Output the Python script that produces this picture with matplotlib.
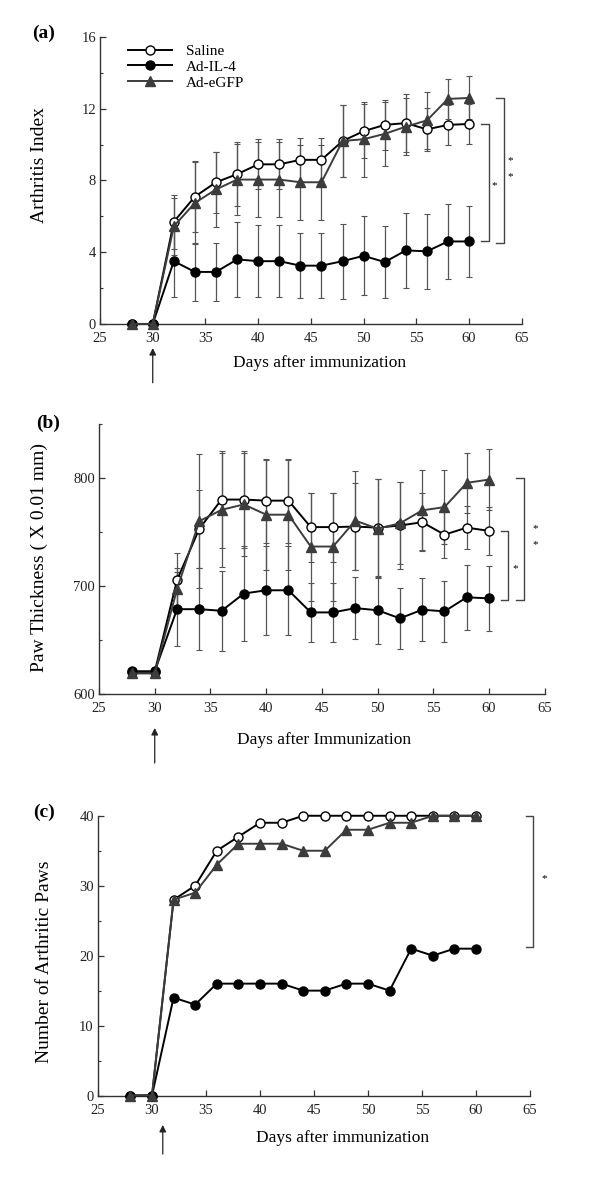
import numpy as np
import matplotlib.pyplot as plt
from matplotlib.ticker import MultipleLocator

plt.rcParams['font.family'] = ['Liberation Serif', 'DejaVu Serif']

days = [28, 30, 32, 34, 36, 38, 40, 42, 44, 46, 48, 50, 52, 54, 56, 58, 60]
groups = ['Saline', 'Ad-IL-4', 'Ad-eGFP']

# (a) arthritis index, mean and error
ai_saline = [0, 0, 5.7, 7.1, 7.9, 8.35, 8.9, 8.9, 9.15, 9.15, 10.2, 10.75, 11.1, 11.2, 10.85, 11.1, 11.15]
ai_il4 = [0, 0, 3.5, 2.9, 2.9, 3.6, 3.5, 3.5, 3.25, 3.25, 3.5, 3.8, 3.45, 4.1, 4.05, 4.6, 4.6]
ai_egfp = [0, 0, 5.45, 6.75, 7.5, 8.05, 8.05, 8.05, 7.9, 7.9, 10.2, 10.3, 10.6, 11.0, 11.35, 12.55, 12.6]
ai_saline_err = [0, 0, 1.5, 2.0, 1.7, 1.8, 1.4, 1.4, 1.2, 1.2, 2.0, 1.5, 1.4, 1.6, 1.2, 1.1, 1.1]
ai_il4_err = [0, 0, 2.0, 1.6, 1.6, 2.1, 2.0, 2.0, 1.8, 1.8, 2.1, 2.2, 2.0, 2.1, 2.1, 2.1, 2.0]
ai_egfp_err = [0, 0, 1.6, 2.3, 2.1, 2.0, 2.1, 2.1, 2.1, 2.1, 2.0, 2.1, 1.8, 1.6, 1.6, 1.1, 1.2]

# (b) paw thickness (x 0.01 mm)
pt_saline = [620.5, 620.5, 705.5, 753, 780, 780, 779, 779, 754.5, 754.5, 755, 754, 756, 759, 747.5, 754, 751]
pt_il4 = [621, 621, 678.5, 678.5, 677, 693, 696, 696, 675.5, 675.5, 679.5, 677.5, 670, 678, 676.5, 689.5, 688.5]
pt_egfp = [619, 619, 697, 760, 770.5, 775.5, 766, 766, 736.5, 736.5, 760.5, 753, 758, 770, 773, 795.5, 798.5]
pt_saline_err = [3, 3, 25, 36, 45, 45, 39, 39, 32, 32, 40, 45, 40, 27, 22, 20, 22]
pt_il4_err = [3, 3, 34, 38, 37, 44, 41, 41, 27, 27, 29, 31, 28, 29, 28, 30, 30]
pt_egfp_err = [3, 3, 20, 62, 53, 48, 51, 51, 50, 50, 46, 46, 38, 37, 34, 28, 28]

# (c) number of arthritic paws
np_saline = [0, 0, 28, 30, 35, 37, 39, 39, 40, 40, 40, 40, 40, 40, 40, 40, 40]
np_il4 = [0, 0, 14, 13, 16, 16, 16, 16, 15, 15, 16, 16, 15, 21, 20, 21, 21]
np_egfp = [0, 0, 28, 29, 33, 36, 36, 36, 35, 35, 38, 38, 39, 39, 40, 40, 40]

fig = plt.figure(figsize=(6, 11.78), dpi=100)
ax_a = fig.add_axes([0.1667, 0.7250, 0.703, 0.2436])
ax_b = fig.add_axes([0.165, 0.4109, 0.743, 0.2292])
ax_c = fig.add_axes([0.1633, 0.0700, 0.72, 0.2375])

styles = [
    dict(marker='o', mfc='white', mec='black', color='black', ms=6.5, lw=1.4),
    dict(marker='o', mfc='black', mec='black', color='black', ms=6.5, lw=1.4),
    dict(marker='^', mfc='#3c3c3c', mec='#3c3c3c', color='#3c3c3c', ms=6.5, lw=1.4),
]


def draw(ax, series, errs=None):
    if errs is not None:
        for s, e in zip(series, errs):
            ax.errorbar(days, s, yerr=e, fmt='none', ecolor='#555555',
                        elinewidth=0.9, capsize=2, capthick=0.8, zorder=2)
    handles = []
    for s, st, name in zip(series, styles, groups):
        h, = ax.plot(days, s, label=name, zorder=3, clip_on=False, **st)
        handles.append(h)
    return handles


def style_axes(ax, ylim, major, minor):
    ax.set_xlim(25, 65)
    ax.set_ylim(*ylim)
    ax.xaxis.set_major_locator(MultipleLocator(5))
    ax.yaxis.set_major_locator(MultipleLocator(major))
    ax.yaxis.set_minor_locator(MultipleLocator(minor))
    for sp in ['top', 'right']:
        ax.spines[sp].set_visible(False)
    for sp in ['left', 'bottom']:
        ax.spines[sp].set_color('#333333')
        ax.spines[sp].set_linewidth(1.0)
    ax.tick_params(which='major', direction='in', length=4, width=0.9,
                   labelsize=10.5, pad=3, colors='#333333', labelcolor='#222222')
    ax.tick_params(axis='x', which='major', pad=6)
    ax.tick_params(which='minor', direction='in', length=2.5, width=0.8,
                   colors='#333333')


def bracket(ax, x, top, bottom, w=0.75):
    ax.plot([x - w, x, x, x - w], [top, top, bottom, bottom],
            color='#444444', lw=1.0, clip_on=False)


def arrow(ax, x, y0, y1):
    ax.annotate('', xy=(x, y0), xytext=(x, y1),
                xycoords=('data', 'axes fraction'), textcoords=('data', 'axes fraction'),
                arrowprops=dict(arrowstyle='-|>', color='#222222', lw=0.9,
                                mutation_scale=10, shrinkA=0, shrinkB=0))


# (a)
handles = draw(ax_a, [ai_saline, ai_il4, ai_egfp], [ai_saline_err, ai_il4_err, ai_egfp_err])
style_axes(ax_a, (0, 16), 4, 2)
ax_a.legend(handles=handles, loc='upper left', bbox_to_anchor=(0.066, 0.975),
            frameon=False, fontsize=11, handlelength=2.9, handletextpad=0.9,
            labelspacing=0.15, borderpad=0, borderaxespad=0)
ax_a.set_ylabel('Arthritis Index', fontsize=14)
ax_a.yaxis.set_label_coords(-0.123, 0.554)
ax_a.text(0.521, -0.135, 'Days after immunization', transform=ax_a.transAxes,
          ha='center', va='center', fontsize=12.5)
ax_a.text(-0.135, 1.014, '(a)', transform=ax_a.transAxes, ha='center',
          va='center', fontsize=14, fontweight='bold')
bracket(ax_a, 61.87, ai_saline[-1], ai_il4[-1])
bracket(ax_a, 63.29, ai_egfp[-1], ai_il4[-1] - 0.08, w=0.7)
ax_a.text(62.35, 7.7, '*', ha='center', va='center', fontsize=8)
ax_a.text(63.95, 9.1, '*', ha='center', va='center', fontsize=8)
ax_a.text(63.95, 8.2, '*', ha='center', va='center', fontsize=8)
arrow(ax_a, 30, -0.084, -0.205)

# (b)
draw(ax_b, [pt_saline, pt_il4, pt_egfp], [pt_saline_err, pt_il4_err, pt_egfp_err])
style_axes(ax_b, (600, 850), 100, 50)
ax_b.set_ylabel('Paw Thickness ( X 0.01 mm)', fontsize=14)
ax_b.yaxis.set_label_coords(-0.114, 0.507)
ax_b.text(0.504, -0.170, 'Days after Immunization', transform=ax_b.transAxes,
          ha='center', va='center', fontsize=12.5)
ax_b.text(-0.114, 1.004, '(b)', transform=ax_b.transAxes, ha='center',
          va='center', fontsize=14, fontweight='bold')
bracket(ax_b, 61.7, pt_saline[-1], pt_il4[-1] - 1.5, w=0.6)
bracket(ax_b, 63.15, 800, pt_il4[-1] - 1.5, w=0.7)
ax_b.text(62.37, 716, '*', ha='center', va='center', fontsize=8)
ax_b.text(64.1, 753, '*', ha='center', va='center', fontsize=8)
ax_b.text(64.1, 738, '*', ha='center', va='center', fontsize=8)
arrow(ax_b, 30, -0.126, -0.256)

# (c)
draw(ax_c, [np_saline, np_il4, np_egfp])
style_axes(ax_c, (0, 40), 10, 5)
ax_c.set_ylabel('Number of Arthritic Paws', fontsize=14)
ax_c.yaxis.set_label_coords(-0.105, 0.478)
ax_c.text(0.567, -0.152, 'Days after immunization', transform=ax_c.transAxes,
          ha='center', va='center', fontsize=12.5)
ax_c.text(-0.125, 1.014, '(c)', transform=ax_c.transAxes, ha='center',
          va='center', fontsize=14, fontweight='bold')
bracket(ax_c, 65.3, np_saline[-1], np_il4[-1] + 0.3, w=0.7)
ax_c.text(66.3, 31, '*', ha='center', va='center', fontsize=8)
arrow(ax_c, 31, -0.105, -0.209)

fig.savefig('out.png', dpi=100)
